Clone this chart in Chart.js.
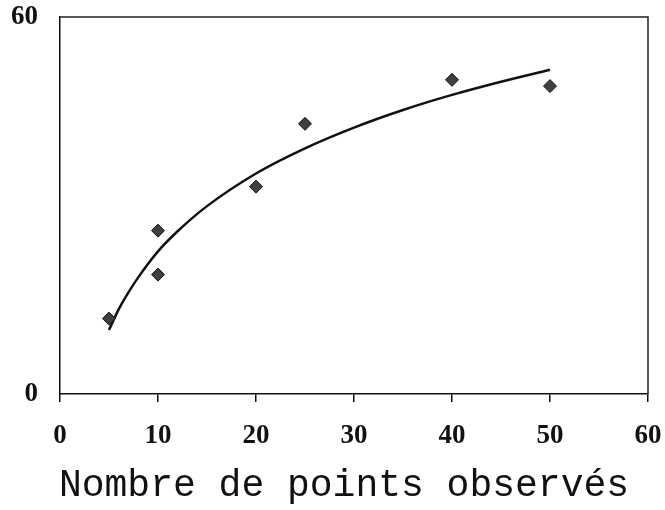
<!DOCTYPE html>
<html>
<head>
<meta charset="utf-8">
<script src="https://cdn.jsdelivr.net/npm/chart.js@4"></script>
<style>
  html, body { margin:0; padding:0; background:#fff; }
  #wrap { width:665px; height:510px; }
</style>
</head>
<body>
<div id="wrap"><canvas id="chart" width="665" height="510"></canvas></div>
<script>
// observed points
const obsX = [5, 10, 10, 20, 25, 40, 50];
const obsY = [12, 26, 19, 33, 43, 50, 49];

// trend curve
const trendX = [5, 6, 7, 8, 10, 12, 15, 20, 25, 30, 35, 40, 45, 50];
const trendY = [10.2, 13.5, 16.2, 18.6, 22.7, 25.9, 29.9, 35.1, 39.1, 42.4, 45.2, 47.6, 49.7, 51.6];

const xTicks = [0, 10, 20, 30, 40, 50, 60];
const yTicks = [0, 60];
const xTitle = 'Nombre de points observés';

const tickFont = { family: '"Liberation Serif", "Times New Roman", serif', size: 27, weight: 'bold' };

// top + right frame of the plot box, and the axis title (sits a bit left of centre)
const frame = {
  id: 'frame',
  afterDatasetsDraw(chart) {
    const { ctx, chartArea: a } = chart;
    ctx.save();
    ctx.strokeStyle = '#222';
    ctx.lineWidth = 1.5;
    ctx.beginPath();
    ctx.moveTo(a.left, a.top);
    ctx.lineTo(a.right, a.top);
    ctx.lineTo(a.right, a.bottom);
    ctx.stroke();

    ctx.fillStyle = '#111';
    ctx.font = '38px "Liberation Mono", "Courier New", monospace';
    ctx.textAlign = 'center';
    ctx.textBaseline = 'alphabetic';
    ctx.fillText(xTitle, (a.left + a.right) / 2 - 10, 496);
    ctx.restore();
  }
};

new Chart(document.getElementById('chart').getContext('2d'), {
  type: 'scatter',
  data: {
    datasets: [
      {
        label: 'obs',
        data: obsX.map((x, i) => ({ x, y: obsY[i] })),
        pointStyle: 'rectRot',
        pointRadius: 6.5,
        backgroundColor: '#3d4040',
        borderColor: '#111',
        borderWidth: 1,
        order: 0
      },
      {
        label: 'trend',
        data: trendX.map((x, i) => ({ x, y: trendY[i] })),
        showLine: true,
        pointRadius: 0,
        borderColor: '#111',
        borderWidth: 2.5,
        cubicInterpolationMode: 'monotone',
        order: 1
      }
    ]
  },
  options: {
    responsive: false,
    animation: false,
    layout: { padding: { top: 17, right: 17, left: 0, bottom: 0 } },
    plugins: { legend: { display: false }, tooltip: { enabled: false } },
    scales: {
      x: {
        type: 'linear', min: 0, max: 60,
        afterBuildTicks: s => { s.ticks = xTicks.map(v => ({ value: v })); },
        afterFit: s => { s.height = 116; s.paddingLeft = 0; s.paddingRight = 0; },
        border: { color: '#111', width: 1.5 },
        grid: { drawOnChartArea: false, drawTicks: true, tickLength: 8, color: '#111', lineWidth: 1.5 },
        ticks: { color: '#111', font: tickFont, padding: 18, maxRotation: 0 },
        title: { display: false, text: xTitle }
      },
      y: {
        type: 'linear', min: 0, max: 60,
        afterBuildTicks: s => { s.ticks = yTicks.map(v => ({ value: v })); },
        afterFit: s => { s.width = 60; s.paddingTop = 0; s.paddingBottom = 0; },
        border: { color: '#111', width: 1.5 },
        grid: { drawOnChartArea: false, drawTicks: false },
        ticks: { color: '#111', font: tickFont, padding: 22 }
      }
    }
  },
  plugins: [frame]
});
</script>
</body>
</html>
